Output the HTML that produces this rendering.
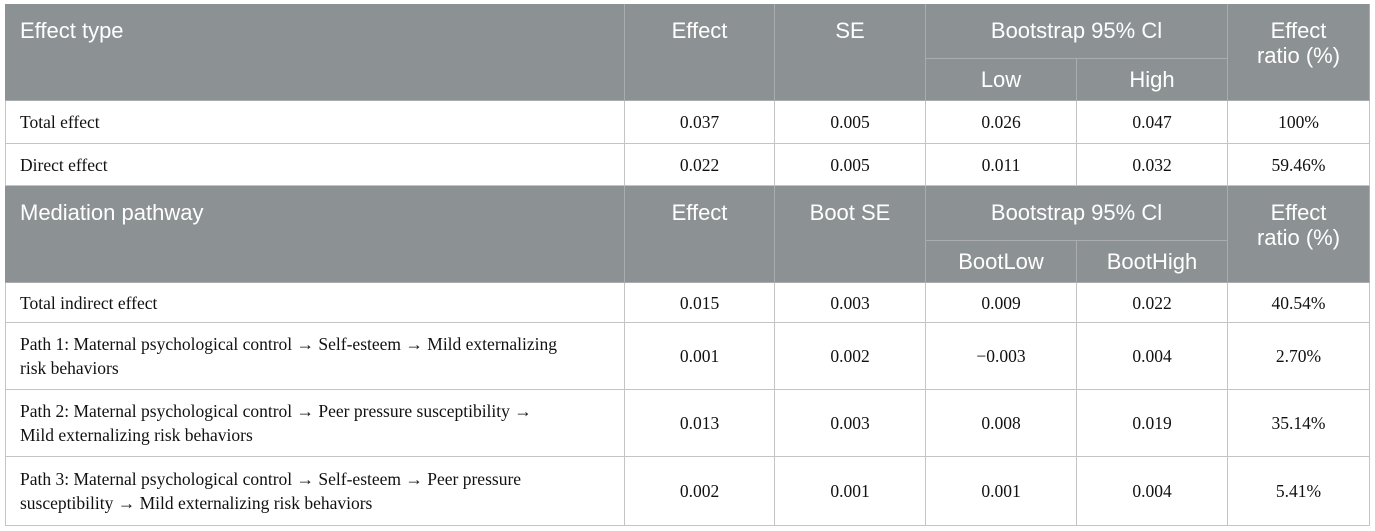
<!DOCTYPE html>
<html><head><meta charset="utf-8"><style>
body{margin:0;width:1375px;height:531px;background:#fff;position:relative;overflow:hidden}
.c{position:absolute;box-sizing:border-box;display:flex;align-items:center;justify-content:center;text-align:center}
.h{background:#8c9194;color:#fff;font-family:"Liberation Sans",sans-serif;font-size:22px;border-right:1px solid #a9adb0;border-bottom:1px solid #a9adb0;line-height:25px}
.b{font-family:"Liberation Serif",serif;font-size:17.5px;color:#111;border-right:1px solid #c4c4c4;border-bottom:1px solid #c4c4c4;line-height:24px}
.l{justify-content:flex-start;text-align:left;padding-left:15px}
.t{align-items:flex-start;padding-top:14px}
</style></head><body>
<div style="position:absolute;left:5px;top:4px;width:1365px;height:522px;border-left:1px solid #c4c4c4;border-top:1px solid #c4c4c4;box-sizing:border-box"></div>
<div class="c h l t" style="left:5px;top:4px;width:620px;height:97px">Effect type</div>
<div class="c h t" style="left:625px;top:4px;width:150px;height:97px">Effect</div>
<div class="c h t" style="left:775px;top:4px;width:151px;height:97px">SE</div>
<div class="c h" style="left:926px;top:4px;width:302px;height:55px;align-items:flex-start;padding-top:14px">Bootstrap 95% Cl</div>
<div class="c h" style="left:926px;top:59px;width:151px;height:42px">Low</div>
<div class="c h" style="left:1077px;top:59px;width:151px;height:42px">High</div>
<div class="c h t" style="left:1228px;top:4px;width:142px;height:97px">Effect<br>ratio (%)</div>
<div class="c b l" style="left:5px;top:101px;width:620px;height:43px">Total effect</div>
<div class="c b" style="left:625px;top:101px;width:150px;height:43px">0.037</div>
<div class="c b" style="left:775px;top:101px;width:151px;height:43px">0.005</div>
<div class="c b" style="left:926px;top:101px;width:151px;height:43px">0.026</div>
<div class="c b" style="left:1077px;top:101px;width:151px;height:43px">0.047</div>
<div class="c b" style="left:1228px;top:101px;width:142px;height:43px">100%</div>
<div class="c b l" style="left:5px;top:144px;width:620px;height:42px">Direct effect</div>
<div class="c b" style="left:625px;top:144px;width:150px;height:42px">0.022</div>
<div class="c b" style="left:775px;top:144px;width:151px;height:42px">0.005</div>
<div class="c b" style="left:926px;top:144px;width:151px;height:42px">0.011</div>
<div class="c b" style="left:1077px;top:144px;width:151px;height:42px">0.032</div>
<div class="c b" style="left:1228px;top:144px;width:142px;height:42px">59.46%</div>
<div class="c h l t" style="left:5px;top:186px;width:620px;height:97px">Mediation pathway</div>
<div class="c h t" style="left:625px;top:186px;width:150px;height:97px">Effect</div>
<div class="c h t" style="left:775px;top:186px;width:151px;height:97px">Boot SE</div>
<div class="c h" style="left:926px;top:186px;width:302px;height:55px;align-items:flex-start;padding-top:14px">Bootstrap 95% Cl</div>
<div class="c h" style="left:926px;top:241px;width:151px;height:42px">BootLow</div>
<div class="c h" style="left:1077px;top:241px;width:151px;height:42px">BootHigh</div>
<div class="c h t" style="left:1228px;top:186px;width:142px;height:97px">Effect<br>ratio (%)</div>
<div class="c b l" style="left:5px;top:283px;width:620px;height:40px">Total indirect effect</div>
<div class="c b" style="left:625px;top:283px;width:150px;height:40px">0.015</div>
<div class="c b" style="left:775px;top:283px;width:151px;height:40px">0.003</div>
<div class="c b" style="left:926px;top:283px;width:151px;height:40px">0.009</div>
<div class="c b" style="left:1077px;top:283px;width:151px;height:40px">0.022</div>
<div class="c b" style="left:1228px;top:283px;width:142px;height:40px">40.54%</div>
<div class="c b l" style="left:5px;top:323px;width:620px;height:67px"><span>Path 1: Maternal psychological control → Self-esteem → Mild externalizing<br>risk behaviors</span></div>
<div class="c b" style="left:625px;top:323px;width:150px;height:67px">0.001</div>
<div class="c b" style="left:775px;top:323px;width:151px;height:67px">0.002</div>
<div class="c b" style="left:926px;top:323px;width:151px;height:67px">−0.003</div>
<div class="c b" style="left:1077px;top:323px;width:151px;height:67px">0.004</div>
<div class="c b" style="left:1228px;top:323px;width:142px;height:67px">2.70%</div>
<div class="c b l" style="left:5px;top:390px;width:620px;height:67px"><span>Path 2: Maternal psychological control → Peer pressure susceptibility →<br>Mild externalizing risk behaviors</span></div>
<div class="c b" style="left:625px;top:390px;width:150px;height:67px">0.013</div>
<div class="c b" style="left:775px;top:390px;width:151px;height:67px">0.003</div>
<div class="c b" style="left:926px;top:390px;width:151px;height:67px">0.008</div>
<div class="c b" style="left:1077px;top:390px;width:151px;height:67px">0.019</div>
<div class="c b" style="left:1228px;top:390px;width:142px;height:67px">35.14%</div>
<div class="c b l" style="left:5px;top:457px;width:620px;height:69px"><span>Path 3: Maternal psychological control → Self-esteem → Peer pressure<br>susceptibility → Mild externalizing risk behaviors</span></div>
<div class="c b" style="left:625px;top:457px;width:150px;height:69px">0.002</div>
<div class="c b" style="left:775px;top:457px;width:151px;height:69px">0.001</div>
<div class="c b" style="left:926px;top:457px;width:151px;height:69px">0.001</div>
<div class="c b" style="left:1077px;top:457px;width:151px;height:69px">0.004</div>
<div class="c b" style="left:1228px;top:457px;width:142px;height:69px">5.41%</div>
</body></html>
